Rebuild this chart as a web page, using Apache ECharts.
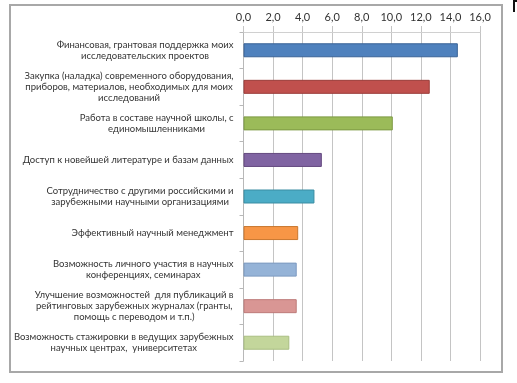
<!DOCTYPE html>
<html>
<head>
<meta charset="utf-8">
<script src="https://cdn.jsdelivr.net/npm/echarts@6/dist/echarts.min.js"></script>
<style>html,body{margin:0;padding:0;background:#fff;}#c{width:517px;height:383px;}</style>
</head>
<body>
<div id="c"></div>
<script>
const categories = [
  "Финансовая, грантовая поддержка моих\nисследовательских проектов",
  "Закупка (наладка) современного оборудования,\nприборов, материалов, необходимых для моих\nисследований",
  "Работа в составе научной школы, с\nединомышленниками",
  "Доступ к новейшей литературе и базам данных",
  "Сотрудничество с другими российскими и\nзарубежными научными организациями",
  "Эффективный научный менеджмент",
  "Возможность личного участия в научных\nконференциях, семинарах",
  "Улучшение возможностей  для публикаций в\nрейтинговых зарубежных журналах (гранты,\nпомощь с переводом и т.п.)",
  "Возможность стажировки в ведущих зарубежных\nнаучных центрах,  университетах"
];
const values = [14.5, 12.6, 10.1, 5.3, 4.8, 3.7, 3.6, 3.6, 3.1];
const xTicks = { min: 0, max: 16, interval: 2 };
const colors = ["#4F81BD", "#C0504D", "#9BBB59", "#8064A2", "#4BACC6", "#F79646", "#95B3D7", "#D99694", "#C3D69B"];
const borders = ["#3A6396", "#9B3D3A", "#7D9A44", "#64497F", "#3A8DA3", "#C9772F", "#7C9AC0", "#BD7B79", "#A9BE82"];

const chart = echarts.init(document.getElementById('c'), null, { renderer: 'canvas' });
chart.setOption({
  animation: false,
  backgroundColor: '#ffffff',
  grid: { left: 243.5, right: 37, top: 32, bottom: 22, containLabel: false },
  xAxis: {
    type: 'value', position: 'top',
    min: xTicks.min, max: xTicks.max, interval: xTicks.interval,
    axisLine: { show: true, lineStyle: { color: '#d0d0d0', width: 1 } },
    axisTick: { show: true, inside: false, length: 6, lineStyle: { color: '#c4c4c4', width: 1 } },
    splitLine: { show: true, lineStyle: { color: '#c4c4c4', width: 1 } },
    axisLabel: {
      margin: 9, color: '#333333', fontFamily: 'Lato, "Open Sans", sans-serif', fontSize: 11,
      formatter: v => v.toFixed(1).replace('.', ',')
    }
  },
  yAxis: {
    type: 'category', inverse: true, data: categories,
    axisLine: { show: true, lineStyle: { color: '#b8b8b8', width: 1 } },
    axisTick: { show: true, length: 4, lineStyle: { color: '#b8b8b8' } },
    splitLine: { show: false },
    axisLabel: {
      margin: 10, color: '#333333', fontFamily: 'Lato, "Open Sans", sans-serif', fontSize: 9.5,
      lineHeight: 11, align: 'right',
      formatter: v => v.split('\n').map(l => '{c|' + l + '}').join('\n'),
      rich: { c: { align: 'center', fontSize: 9.5, lineHeight: 11, color: '#333333', fontFamily: 'Lato, "Open Sans", sans-serif' } }
    }
  },
  series: [{
    type: 'bar', barWidth: 14,
    data: values.map((v, i) => ({ value: v, itemStyle: { color: colors[i], borderColor: borders[i], borderWidth: 1 } }))
  }],
  graphic: [
    { type: 'rect', shape: { x: 10, y: 5, width: 492, height: 367 }, style: { fill: 'none', stroke: '#a8a8a8', lineWidth: 2 }, z: 100 },
    { type: 'polyline', shape: { points: [[514, 12], [514, 1], [517, 1]] }, style: { fill: 'none', stroke: '#111', lineWidth: 2 }, z: 100 }
  ]
});
</script>
</body>
</html>
